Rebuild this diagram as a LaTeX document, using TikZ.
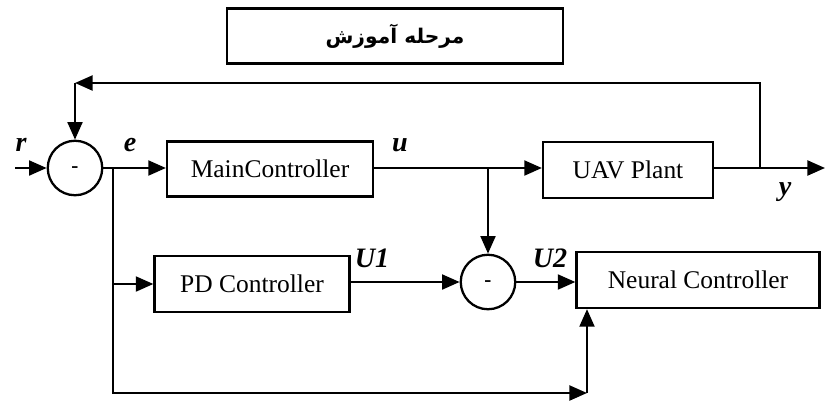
\documentclass[tikz,border=0pt]{standalone}
\usepackage{fontspec}
\setmainfont{Liberation Serif}
\newfontfamily\arabicfont[Script=Arabic]{DejaVu Sans}
\TeXXeTstate=1
\usetikzlibrary{arrows.meta}

\tikzset{
  blockbox/.style={draw, line width=1.3pt, inner sep=0pt, font=\fontsize{14.5}{17}\selectfont},
  sumnode/.style={draw, circle, line width=1.3pt, minimum size=1.09cm, inner sep=0pt,
    text height=0.46em, text depth=0pt, font=\bfseries\large},
  sig/.style={font=\fontsize{16}{18}\selectfont\bfseries\itshape},
  arr/.style={line width=1.3pt, -{Triangle[length=10pt,width=8.5pt]}},
  ln/.style={line width=1.3pt}
}

\begin{document}
\begin{tikzpicture}[x=0.02cm, y=-0.02cm]

\useasboundingbox (0,0) rectangle (825,403);

\node [blockbox, minimum width=6.72cm, minimum height=1.1cm] (train) at (395,36)
  {\arabicfont\bfseries\fontsize{11.5}{14}\selectfont\beginR مرحله آموزش\endR};

\node [sumnode] (sum1) at (75,168) {-};
\node [blockbox, minimum width=4.12cm, minimum height=1.1cm] (main) at (270,169) {MainController};
\node [blockbox, minimum width=3.4cm, minimum height=1.12cm] (plant) at (628,170) {UAV Plant};

\node [blockbox, minimum width=3.9cm, minimum height=1.12cm] (pd) at (252,284) {PD Controller};
\node [sumnode] (sum2) at (488,282) {-};
\node [blockbox, minimum width=4.86cm, minimum height=1.12cm] (neural) at (698,280) {Neural Controller};

\coordinate (rin) at (15,168);
\coordinate (ebr) at (113,168);
\coordinate (ubr) at (488,168);
\coordinate (ytap) at (760,168);
\coordinate (yout) at (825,168);
\coordinate (fbc) at (75,83);
\coordinate (bc) at (587,393);

\draw [arr] (rin) -- (sum1);
\draw [arr] (sum1) -- (main.west |- sum1);
\draw [arr] (main.east |- sum1) -- (plant.west |- sum1);
\draw [arr] (plant.east |- sum1) -- (yout);

\draw [arr] (ytap) |- (fbc);
\draw [arr] (fbc) -- (sum1);

\draw [arr] (ubr) -- (sum2);

\draw [arr] (ebr) |- (pd);
\draw [arr] (ebr) |- (bc);
\draw [arr] (bc) -- (bc |- neural.south);

\draw [arr] (pd.east |- sum2) -- (sum2);
\draw [arr] (sum2) -- (neural.west |- sum2);

\node [sig] (rlab) at (21,145) {r};
\node [sig] (elab) at (130,145) {e};
\node [sig] (ulab) at (400,145) {u};
\node [sig] (ylab) at (785,192) {y};
\node [sig] (u1lab) at (372,258) {U1};
\node [sig] (u2lab) at (550,258) {U2};

\end{tikzpicture}
\end{document}
